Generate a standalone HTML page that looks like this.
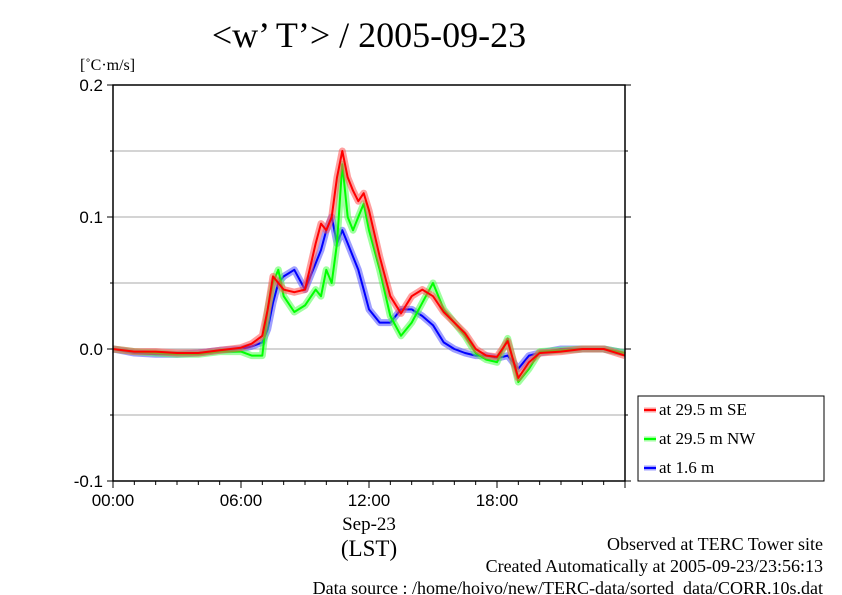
<!DOCTYPE html>
<html><head><meta charset="utf-8"><style>
body{margin:0;background:#fff;width:842px;height:595px;overflow:hidden}
svg{display:block}
.s{font-family:"Liberation Sans",sans-serif}
.r{font-family:"Liberation Serif",serif}
</style></head><body>
<svg id="c" width="842" height="595">
<text class="r" x="369" y="47" font-size="36" text-anchor="middle">&lt;w’ T’&gt; / 2005-09-23</text>
<text class="r" x="80" y="70" font-size="16">[˚C·m/s]</text>
<g id="grid"></g><g id="series"></g><g id="axes"></g>
<text class="r" x="369" y="530" font-size="19" text-anchor="middle">Sep-23</text>
<text class="r" x="369" y="556" font-size="23" text-anchor="middle">(LST)</text>
<text class="r" x="823" y="550" font-size="18" text-anchor="end">Observed at TERC Tower site</text>
<text class="r" x="823" y="572" font-size="18" text-anchor="end">Created Automatically at 2005-09-23/23:56:13</text>
<text class="r" x="823" y="594" font-size="18" text-anchor="end">Data source : /home/hoivo/new/TERC-data/sorted_data/CORR.10s.dat</text>
<g>
<rect x="638" y="396" width="186" height="85" fill="#fff" stroke="#000" stroke-width="1"/>
<g id="leg"></g></g>
</svg>
<script>
const times=[0,1,2,3,4,5,6,6.5,7,7.25,7.5,7.75,8,8.5,9,9.5,9.75,10,10.25,10.5,10.75,11,11.25,11.5,11.75,12,12.5,13,13.5,14,14.5,15,15.5,16,16.5,17,17.5,18,18.5,19,19.5,20,21,22,23,24];
const seSeries=[0,-0.002,-0.002,-0.003,-0.003,-0.001,0.001,0.004,0.01,0.03,0.055,0.05,0.045,0.043,0.045,0.08,0.095,0.09,0.1,0.13,0.15,0.13,0.12,0.112,0.118,0.105,0.07,0.04,0.027,0.04,0.045,0.04,0.028,0.02,0.012,0.0,-0.005,-0.006,0.006,-0.022,-0.01,-0.003,-0.002,0.0,0.0,-0.005];
const nwSeries=[0,-0.002,-0.003,-0.004,-0.004,-0.002,-0.002,-0.005,-0.005,0.03,0.05,0.06,0.04,0.028,0.033,0.045,0.04,0.06,0.05,0.08,0.14,0.1,0.09,0.1,0.11,0.09,0.06,0.025,0.01,0.02,0.035,0.05,0.03,0.02,0.01,-0.003,-0.008,-0.01,0.008,-0.025,-0.015,-0.002,-0.001,0.0,0.0,-0.003];
const lowSeries=[0,-0.003,-0.004,-0.004,-0.003,-0.001,0.0,0.002,0.005,0.015,0.035,0.05,0.055,0.06,0.045,0.065,0.075,0.09,0.1,0.08,0.09,0.08,0.07,0.06,0.045,0.03,0.02,0.02,0.03,0.03,0.025,0.018,0.005,0.0,-0.003,-0.005,-0.005,-0.007,-0.005,-0.015,-0.005,-0.003,0.0,0.0,0.0,-0.003];
const yTicks=[-0.1,0.0,0.1,0.2];
const yTickLabels=["-0.1","0.0","0.1","0.2"];
const xTicks=[0,6,12,18];
const xTickLabels=["00:00","06:00","12:00","18:00"];
const seriesNames=["at 29.5 m SE","at 29.5 m NW","at 1.6 m"];
const X0=113,X1=625,Y0=481,Y1=85;
const xs=h=>X0+(h/24)*(X1-X0);
const ys=v=>Y0-(v+0.1)/0.3*(Y0-Y1);
const NS="http://www.w3.org/2000/svg";
function mk(t,a,p){const e=document.createElementNS(NS,t);for(const k in a)e.setAttribute(k,a[k]);p.appendChild(e);return e;}
const grid=document.getElementById('grid'),axes=document.getElementById('axes'),ser=document.getElementById('series'),leg=document.getElementById('leg');
for(let v=-0.05;v<0.2;v+=0.05){const l=mk('line',{x1:X0,x2:X1,y1:ys(v),y2:ys(v),stroke:'#aaa','stroke-width':1},grid);

}
const fr=mk('rect',{x:X0,y:Y1,width:X1-X0,height:Y0-Y1,fill:'none',stroke:'#000','stroke-width':1.5},axes);


for(let h=0;h<=24;h++){const len=h%6==0?7:4;mk('line',{x1:xs(h),x2:xs(h),y1:Y0,y2:Y0+len,stroke:'#000'},axes);}
yTicks.forEach((v,i)=>{mk('line',{x1:X0-6,x2:X0,y1:ys(v),y2:ys(v),stroke:'#000'},axes);mk('line',{x1:X1,x2:X1+6,y1:ys(v),y2:ys(v),stroke:'#000'},axes);
const t=mk('text',{x:X0-10,y:ys(v)+6,'font-size':17,'text-anchor':'end',class:'s'},axes);t.textContent=yTickLabels[i];

});
for(let v=-0.05;v<0.2;v+=0.1){mk('line',{x1:X0-3,x2:X0,y1:ys(v),y2:ys(v),stroke:'#000'},axes);mk('line',{x1:X1,x2:X1+3,y1:ys(v),y2:ys(v),stroke:'#000'},axes);}
xTicks.forEach((h,i)=>{const t=mk('text',{x:xs(h),y:Y0+25,'font-size':17,'text-anchor':'middle',class:'s'},axes);t.textContent=xTickLabels[i];

});
const cols=["#ff0000","#00ff00","#0000ff"];
const halos=["rgba(255,80,80,0.55)","rgba(80,255,80,0.55)","rgba(80,80,255,0.55)"];
const data=[seSeries,nwSeries,lowSeries];
const order=[2,1,0];
order.forEach(k=>{const d=data[k].map((v,i)=>(i?'L':'M')+xs(times[i]).toFixed(1)+','+ys(v).toFixed(1)).join('');
const g=mk('g',{},ser);


mk('path',{d:d,fill:'none',stroke:halos[k],'stroke-width':7,'stroke-linejoin':'round'},g);
mk('path',{d:d,fill:'none',stroke:cols[k],'stroke-width':2,'stroke-linejoin':'round'},g);});
seriesNames.forEach((n,i)=>{const y=410+i*29;const g=mk('g',{},leg);


mk('line',{x1:644,x2:656,y1:y,y2:y,stroke:halos[i],'stroke-width':5},g);
mk('line',{x1:644,x2:656,y1:y,y2:y,stroke:cols[i],'stroke-width':2},g);
const t=mk('text',{x:659,y:y+5,'font-size':17,class:'r'},g);t.textContent=n;});
</script>
</body></html>
